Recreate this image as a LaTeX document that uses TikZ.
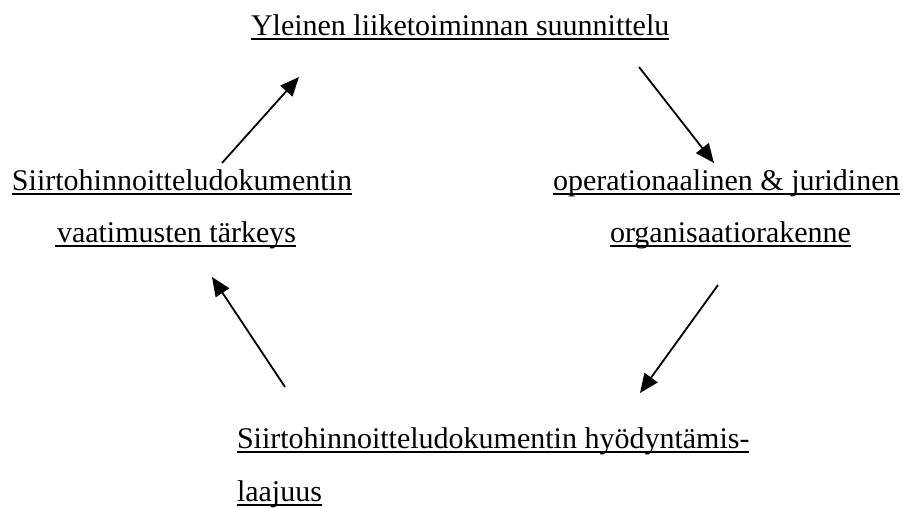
\documentclass[tikz,border=0pt]{standalone}
\usepackage{fontspec}
\setmainfont{Liberation Serif}
\usetikzlibrary{arrows.meta}
\newcommand\myul[1]{\setbox0\hbox{#1}\rlap{\rule[-4.5pt]{\wd0}{2pt}}\box0}
\tikzset{
  lbl/.style={anchor=base west, inner sep=0pt, outer sep=0pt, font=\fontsize{30}{36}\selectfont},
  arr/.style={line width=1.8pt, -{Triangle[length=19pt,width=16pt]}}
}
\begin{document}
\begin{tikzpicture}[x=1pt,y=-1pt]
\useasboundingbox (0,0) rectangle (903,508);
\node[lbl] (top) at (251,36) {\myul{Yleinen liiketoiminnan suunnittelu}};
\node[lbl] (l1) at (12,191) {\myul{Siirtohinnoitteludokumentin}};
\node[lbl] (l2) at (55,242) {\myul{\hspace{2pt}vaatimusten tärkeys}};
\node[lbl] (r1) at (553,191) {\myul{operationaalinen \& juridinen}};
\node[lbl] (r2) at (610,242) {\myul{organisaatiorakenne}};
\node[lbl] (b1) at (237,448) {\myul{Siirtohinnoitteludokumentin hyödyntämis-}};
\node[lbl] (b2) at (237,501) {\myul{laajuus}};
\coordinate (a1s) at (222,163);
\coordinate (a1e) at (299,77);
\coordinate (a2s) at (639,67);
\coordinate (a2e) at (714,163);
\coordinate (a3s) at (718,285);
\coordinate (a3e) at (640,393);
\coordinate (a4s) at (285,387);
\coordinate (a4e) at (212,277);
\draw[arr] (a1s) -- (a1e);
\draw[arr] (a2s) -- (a2e);
\draw[arr] (a3s) -- (a3e);
\draw[arr] (a4s) -- (a4e);
\end{tikzpicture}
\end{document}
